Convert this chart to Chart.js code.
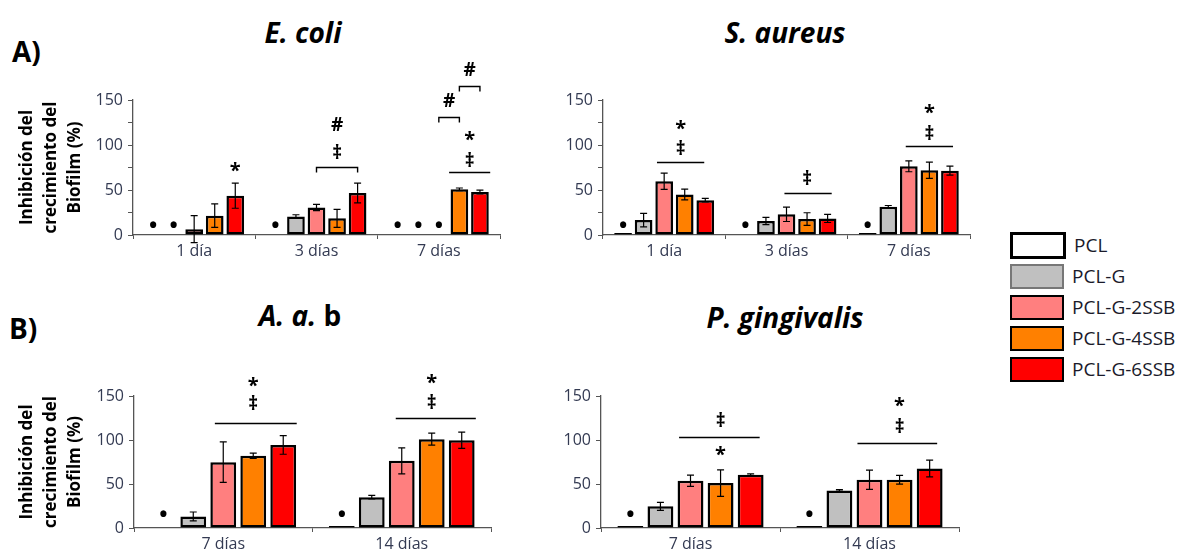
<!DOCTYPE html>
<html>
<head>
<meta charset="utf-8">
<script src="https://cdn.jsdelivr.net/npm/chart.js@4.4.1/dist/chart.umd.min.js"></script>
<style>
  body { margin: 0; width: 1184px; height: 557px; background: #fff; position: relative; overflow: hidden; font-family: "Open Sans", sans-serif; }
  .box { position: absolute; }
  .ttl { position: absolute; transform: translate(-50%, -50%); white-space: nowrap; font-weight: bold; font-size: 28px; color: #000; }
  .tag { position: absolute; font-weight: bold; font-size: 28px; color: #000; line-height: 1; }
  #legend { position: absolute; left: 1010px; top: 232px; }
  .row { position: absolute; left: 0; height: 26px; display: flex; align-items: center; white-space: nowrap; }
  .sw { width: 50px; height: 21px; border: 2.5px solid #000; box-sizing: content-box; }
  .lab { margin-left: 8px; font-size: 19px; color: #1a1a2a; }
</style>
</head>
<body>

<div class="tag" style="left:12px; top:37px;">A)</div>
<div class="tag" style="left:9px; top:314px;">B)</div>
<div class="ttl" style="left:303px; top:32px;"><i>E. coli</i></div>
<div class="ttl" style="left:785px; top:32px;"><i>S. aureus</i></div>
<div class="ttl" style="left:300px; top:315px;"><i>A. a.</i> b</div>
<div class="ttl" style="left:785px; top:317px;"><i>P. gingivalis</i></div>

<div class="box" style="left:0px; top:40px;"><canvas id="ecoli" width="515" height="230"></canvas></div>
<div class="box" style="left:520px; top:40px;"><canvas id="saureus" width="460" height="230"></canvas></div>
<div class="box" style="left:0px; top:330px;"><canvas id="aab" width="505" height="227"></canvas></div>
<div class="box" style="left:520px; top:330px;"><canvas id="pging" width="460" height="227"></canvas></div>
<div id="legend"></div>

<script>
// categories
const daysA = ['1 día', '3 días', '7 días'];
const daysB = ['7 días', '14 días'];
const series = ['PCL', 'PCL-G', 'PCL-G-2SSB', 'PCL-G-4SSB', 'PCL-G-6SSB'];

// values: one row per series, one column per day (null = no bar, marked with •)
const ecoliMean = [[null, null, null], [null, 20.5, null], [6.5, 30.5, null], [21.5, 18.5, 50.7], [43.7, 46.7, 47.8]];
const ecoliErr  = [[0, 0, 0], [0, 2, 0], [15, 3.5, 0], [13, 10, 1.5], [14, 11, 2]];

const saureusMean = [[1, null, 1], [16.6, 15.5, 31.3], [59.7, 23, 76.3], [45, 17.7, 72], [38.7, 18.4, 71.5]];
const saureusErr  = [[0, 0, 0], [7.5, 4, 1.5], [9, 8, 6], [6, 7, 9], [2, 4.5, 5]];

const aabMean = [[null, 1], [13.2, 35], [74.8, 76.3], [82, 100.9], [94.4, 99.7]];
const aabErr  = [[0, 0], [5, 2], [23, 14.7], [3, 6.8], [10.6, 9.3]];

const pgingMean = [[1, 1], [24.6, 42.7], [53.6, 54.8], [51, 54.8], [60.4, 67.6]];
const pgingErr  = [[0, 0], [4.5, 1], [6.4, 11], [15, 5], [1, 9.5]];

// significance marks: [text, day, series position, value]
const ecoliMarks = [
  ['•', 0, 0, 12], ['•', 0, 1, 12], ['•', 1, 0, 12], ['•', 2, 0, 12], ['•', 2, 1, 12], ['•', 2, 2, 12],
  ['*', 0, 4, 76], ['‡', 1, 3, 92.6], ['#', 1, 3, 123],
  ['‡', 2, 3.5, 84], ['*', 2, 3.5, 110], ['#', 2, 2.5, 150], ['#', 2, 3.5, 185]
];
// lines: [day, from, to, value, bracket]
const ecoliLines = [[1, 2, 4, 76, true], [2, 2.5, 4.5, 69.6, false], [2, 2, 3, 130.7, true], [2, 3, 4, 165.5, true]];

const saureusMarks = [
  ['•', 0, 0, 12], ['•', 1, 0, 12], ['•', 2, 0, 12],
  ['‡', 0, 2.8, 97.7], ['*', 0, 2.8, 122.7], ['‡', 1, 3, 64], ['‡', 2, 3, 114], ['*', 2, 3, 140]
];
const saureusLines = [[0, 1.65, 3.95, 81, false], [1, 1.9, 4.2, 47, false], [2, 1.85, 4.15, 98.4, false]];

const aabMarks = [
  ['•', 0, 0, 17], ['•', 1, 0, 17],
  ['‡', 0, 3, 142.4], ['*', 0, 3, 166], ['‡', 1, 3, 143.6], ['*', 1, 3, 168.9]
];
const aabLines = [[0, 1.72, 4.45, 119, false], [1, 1.8, 4.47, 124.7, false]];

const pgingMarks = [
  ['•', 0, 0, 17], ['•', 1, 0, 17],
  ['‡', 0, 3, 122.8], ['*', 0, 3, 87], ['*', 1, 3, 143.6], ['‡', 1, 3, 117]
];
const pgingLines = [[0, 1.62, 4.3, 103, false], [1, 1.6, 4.25, 97, false]];

const fills = ['#ffffff', '#c0c0c0', '#ff7f7f', '#ff8000', '#ff0000'];
const legendBorders = ['#000', '#777', '#000', '#000', '#000'];
const FONT = '"Open Sans", sans-serif';
const tickColor = '#333a52';
const axisColor = '#555';

const marksPlugin = {
  id: 'marks',
  afterDatasetsDraw(chart) {
    const ctx = chart.ctx;
    const y = chart.scales.y;
    const cfg = chart.options.plugins.marks;
    const px = (g, s) => {
      const a = chart.getDatasetMeta(0).data[g].x;
      const b = chart.getDatasetMeta(1).data[g].x;
      return a + s * (b - a);
    };
    ctx.save();
    // error bars
    ctx.strokeStyle = '#000';
    ctx.lineWidth = 1.2;
    chart.data.datasets.forEach((ds, i) => {
      const meta = chart.getDatasetMeta(i);
      ds.errors.forEach((e, g) => {
        if (!e || ds.data[g] == null) return;
        const x = meta.data[g].x;
        const m = ds.data[g];
        const t = y.getPixelForValue(m + e), b = y.getPixelForValue(m - e);
        ctx.beginPath();
        ctx.moveTo(x, t); ctx.lineTo(x, b);
        ctx.moveTo(x - 3.5, t); ctx.lineTo(x + 3.5, t);
        ctx.moveTo(x - 3.5, b); ctx.lineTo(x + 3.5, b);
        ctx.stroke();
      });
    });
    // lines and brackets
    ctx.lineWidth = 1.4;
    cfg.lines.forEach(([g, a, b, v, br]) => {
      const yy = Math.round(y.getPixelForValue(v)) + 0.5;
      const x1 = px(g, a), x2 = px(g, b);
      ctx.beginPath();
      if (br) { ctx.moveTo(x1, yy + 5); ctx.lineTo(x1, yy); ctx.lineTo(x2, yy); ctx.lineTo(x2, yy + 5); }
      else { ctx.moveTo(x1, yy); ctx.lineTo(x2, yy); }
      ctx.stroke();
    });
    // symbols
    ctx.fillStyle = '#000';
    ctx.textAlign = 'center';
    ctx.textBaseline = 'alphabetic';
    cfg.marks.forEach(([t, g, s, v]) => {
      ctx.font = t === '•' ? 'bold 22px ' + FONT : (t === '*' ? 'bold 20px ' + FONT : 'bold 19px ' + FONT);
      const m = ctx.measureText(t);
      const yy = y.getPixelForValue(v) + (m.actualBoundingBoxAscent - m.actualBoundingBoxDescent) / 2;
      ctx.fillText(t, px(g, s), yy);
    });
    ctx.restore();
  }
};

function makeChart(id, days, means, errs, marks, lines, geo, withTitle) {
  const datasets = series.map((name, i) => ({
    label: name,
    data: means[i],
    errors: errs[i],
    backgroundColor: fills[i],
    borderColor: '#000',
    borderWidth: 2.5,
    borderSkipped: false,
    minBarLength: 2,
    categoryPercentage: 0.84,
    barPercentage: 0.86
  }));
  return new Chart(document.getElementById(id), {
    type: 'bar',
    data: { labels: days, datasets: datasets },
    plugins: [marksPlugin],
    options: {
      responsive: false,
      animation: false,
      layout: { padding: { top: geo.top, right: geo.right, left: 0, bottom: 0 } },
      plugins: {
        legend: { display: false },
        tooltip: { enabled: false },
        marks: { marks: marks, lines: lines }
      },
      scales: {
        x: {
          grid: { drawOnChartArea: false, tickLength: 4, color: axisColor, offset: true },
          border: { color: axisColor, width: 1.3 },
          ticks: { color: tickColor, font: { family: FONT, size: 16 }, padding: 3 },
          afterFit: s => { s.height = geo.xh; }
        },
        y: {
          min: 0,
          max: 150,
          ticks: {
            stepSize: 25,
            color: tickColor,
            font: { family: FONT, size: 16 },
            padding: 5,
            callback: v => (v % 50 === 0 ? v : '')
          },
          grid: { drawOnChartArea: false, tickLength: 5, color: axisColor },
          border: { color: axisColor, width: 1.3 },
          title: {
            display: withTitle,
            text: ['Inhibición del', 'crecimiento del', 'Biofilm (%)'],
            color: '#000',
            font: { family: FONT, size: 17, weight: 'bold', lineHeight: 1.41 },
            padding: { top: 15, bottom: 0 }
          },
          afterFit: s => { s.width = geo.yw; }
        }
      }
    }
  });
}

makeChart('ecoli', daysA, ecoliMean, ecoliErr, ecoliMarks, ecoliLines, { yw: 133, top: 60, right: 15, xh: 35 }, true);
makeChart('saureus', daysA, saureusMean, saureusErr, saureusMarks, saureusLines, { yw: 83, top: 60, right: 10, xh: 35 }, false);
makeChart('aab', daysB, aabMean, aabErr, aabMarks, aabLines, { yw: 134, top: 66, right: 14, xh: 29 }, true);
makeChart('pging', daysB, pgingMean, pgingErr, pgingMarks, pgingLines, { yw: 81, top: 66, right: 21, xh: 29 }, false);

// shared legend
const legend = document.getElementById('legend');
series.forEach((name, i) => {
  const row = document.createElement('div');
  row.className = 'row';
  row.style.top = (i * 31) + 'px';
  const sw = document.createElement('div');
  sw.className = 'sw';
  sw.style.background = fills[i];
  sw.style.borderColor = legendBorders[i];
  if (i === 0) sw.style.borderWidth = '3px';
  const lab = document.createElement('span');
  lab.className = 'lab';
  lab.textContent = name;
  row.appendChild(sw);
  row.appendChild(lab);
  legend.appendChild(row);
});
</script>
</body>
</html>
